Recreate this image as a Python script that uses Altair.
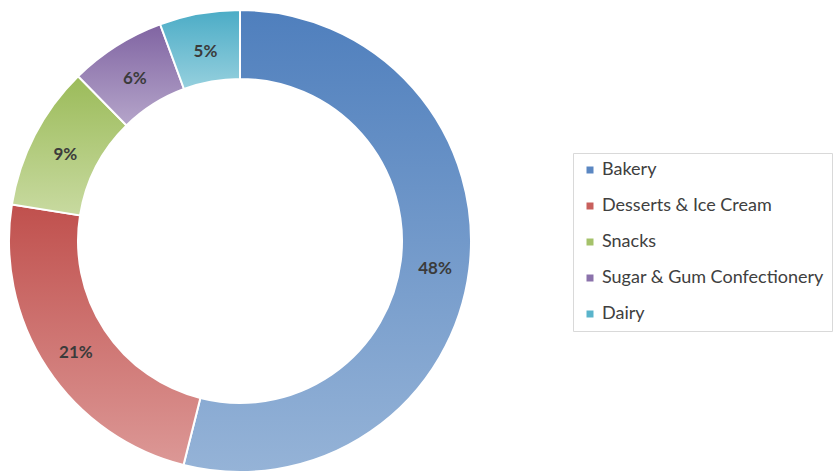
import altair as alt
import pandas as pd

categories = ["Bakery", "Desserts & Ice Cream", "Snacks", "Sugar & Gum Confectionery", "Dairy"]
values = [48, 21, 9, 6, 5]
labels = ["48%", "21%", "9%", "6%", "5%"]
top_colors = ["#4f7fbd", "#c0504d", "#9bbb59", "#8064a2", "#4bacc6"]
bottom_colors = ["#95b3d7", "#dc9896", "#c8daa0", "#b5a5ca", "#96d0de"]
legend_colors = ["#5b87c2", "#c8605d", "#a5c26a", "#8b72ab", "#5ab4cb"]

df = pd.DataFrame({
    "cat": categories,
    "value": values,
    "label": labels,
    "order": list(range(len(categories))),
})
total = sum(values)

CX, CY = 240, 241
R_OUT, R_IN = 231, 162

theta_scale = alt.Scale(domain=[0, total])

base = alt.Chart(df).transform_stack(
    stack="value", groupby=[], as_=["v0", "v1"], sort=[alt.SortField("order")]
)

legend_layer = base.mark_arc(
    innerRadius=R_IN, outerRadius=R_OUT, x=CX, y=CY, stroke="white", strokeWidth=2
).encode(
    theta=alt.Theta("v0:Q", scale=theta_scale),
    theta2="v1:Q",
    color=alt.Color(
        "cat:N",
        scale=alt.Scale(domain=categories, range=legend_colors),
        sort=categories,
        legend=alt.Legend(title=None, orient="none", legendX=573, legendY=153),
    ),
)

layers = [legend_layer]
for cat, c_top, c_bot in zip(categories, top_colors, bottom_colors):
    grad = alt.Gradient(
        gradient="linear",
        stops=[alt.GradientStop(color=c_top, offset=0), alt.GradientStop(color=c_bot, offset=1)],
        x1=0, x2=0, y1=0, y2=1,
    )
    layers.append(
        base.transform_filter(alt.datum.cat == cat).mark_arc(
            innerRadius=R_IN, outerRadius=R_OUT, x=CX, y=CY,
            fill=grad, stroke="white", strokeWidth=2,
        ).encode(
            theta=alt.Theta("v0:Q", scale=theta_scale),
            theta2="v1:Q",
        )
    )

text_layer = base.transform_calculate(mid="(datum.v0 + datum.v1) / 2").mark_text(
    radius=(R_OUT + R_IN) / 2, x=CX, y=CY, dy=4, font="Lato", fontWeight="bold",
    fontSize=17, color="#3b3b3b",
).encode(
    theta=alt.Theta("mid:Q", scale=theta_scale),
    text="label:N",
)
layers.append(text_layer)

chart = alt.layer(*layers).properties(
    width=835, height=472, autosize="none", padding=0, background="white"
).configure_view(stroke=None).configure_legend(
    symbolType="square",
    symbolSize=49,
    symbolStrokeWidth=0,
    labelFont="Lato",
    labelFontSize=18,
    labelColor="#404040",
    rowPadding=18,
    padding=8,
    strokeColor="#d9d9d9",
    labelLimit=400,
    labelOffset=3,
)

chart.save("out.html", embed_options={"renderer": "svg", "actions": False})
